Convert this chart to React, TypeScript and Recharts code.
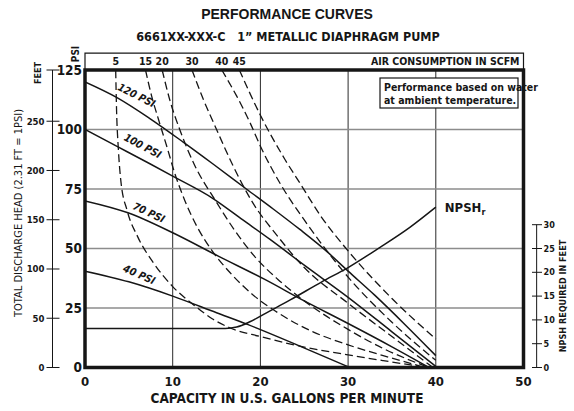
import React from 'react';
import {
  ComposedChart, Line, XAxis, YAxis, CartesianGrid, ReferenceArea, ReferenceDot, ReferenceLine,
} from 'recharts';

// axis ticks
const capacityTicks = [0, 10, 20, 30, 40, 50];
const headTicks = [0, 25, 50, 75, 100, 125];
const feetTicks = [0, 50, 100, 150, 200, 250, 302];
const npshTicks = [0, 5, 10, 15, 20, 25, 30];

// pressure curves: [gpm, head in PSI-scale feet]
const psi120 = [[0, 120], [3.6, 113.5], [7.4, 104.6], [11.2, 94.7], [14.6, 85.5], [18.4, 75], [21.5, 66.5], [24.5, 58], [27.5, 49], [30, 40.5], [33, 30.5], [36.5, 18], [40, 5]];
const psi100 = [[0, 100], [3.6, 93], [7.4, 85.6], [10, 80.4], [14.6, 71], [18, 62], [21.1, 53.8], [25, 43], [30, 29.5], [35, 15], [40, 0.5]];
const psi70 = [[0, 70], [4.9, 65], [10, 56.6], [15.2, 46.8], [20.5, 37], [25, 28], [30, 18.5], [35, 8.7], [39, 0.5]];
const psi40 = [[0, 40.5], [5, 36], [10, 30], [15, 23], [18.6, 18], [24.5, 9], [30, 0.3]];

// air consumption curves (SCFM)
const scfm5 = [[3.5, 125], [3.6, 108], [3.8, 92], [4.1, 78], [4.8, 66], [6, 55], [7.8, 44], [10, 34], [12.5, 26], [14.5, 20.5], [16.5, 16.7], [20, 13], [25, 8.6], [30, 5.3], [34, 2.9], [38, 0.6]];
const scfm15 = [[6.9, 125], [7.6, 114], [8.4, 104], [9.4, 92], [10.2, 82], [11.4, 70], [12.8, 59], [14.5, 49], [16.5, 40], [19, 31], [22, 23], [26, 15], [30, 9.5], [34, 5], [38.5, 0.3]];
const scfm20 = [[8.8, 125], [9.7, 112], [10.8, 100], [12.5, 85], [14.9, 70], [17, 58], [19.5, 46], [22, 37], [25, 28], [30, 16], [34, 8], [39, 0.3]];
const scfm30 = [[12.2, 125], [13.5, 112.6], [15, 100], [16.9, 84.6], [19, 70], [22, 55], [25, 42], [30, 27], [35, 13], [39.5, 0.5]];
const scfm40 = [[15.6, 125], [17.3, 114], [18.8, 103], [20, 93], [22.3, 77], [25, 62], [30, 38], [35, 19], [40, 3]];
const scfm45 = [[17.6, 125], [20, 106], [22.8, 87.4], [24.5, 77.5], [27, 63], [30, 49], [35, 29], [40, 12]];

// NPSH required, feet
const npshReq = [[0, 8.2], [16, 8.2], [17.3, 8.5], [18.8, 9.6], [21, 11.8], [23.4, 14.2], [27, 18], [30, 21], [33.6, 25.2], [37, 29.4], [40, 33.7]];

const psiCurves = [psi120, psi100, psi70, psi40];
const scfmCurves = [scfm5, scfm15, scfm20, scfm30, scfm40, scfm45];
const scfmLabels = ['5', '15', '20', '30', '40', '45'];
const scfmTicks = scfmCurves.map((c) => c[0][0]);

const psiTags = [
  { text: '120 PSI', x: 5.9, y: 114.5, rot: 27 },
  { text: '100 PSI', x: 6.6, y: 93.2, rot: 28 },
  { text: '70 PSI', x: 7.3, y: 65.2, rot: 25 },
  { text: '40 PSI', x: 6.2, y: 39.2, rot: 24 },
];

const toPts = (arr: number[][]) => arr.map(([x, y]) => ({ x, y }));

const NARROW = '"Liberation Sans Narrow", "Arial Narrow", "DejaVu Sans Condensed", sans-serif';
const INK = '#161616';

const FeetTick = ({ x, y, payload }: any) => {
  if (payload.value > 260) {
    return (
      <g>
        <line x1={x - 6} x2={x + 7} y1={y} y2={y} stroke={INK} />
        <text transform={`translate(${x - 15},${y + 3}) rotate(-90)`} textAnchor="middle" dominantBaseline="central"
          fontSize={9} fontWeight={700} fontFamily={NARROW} fill={INK}>FEET</text>
      </g>
    );
  }
  return (
    <g>
      <line x1={x - 6} x2={x + 7} y1={y} y2={y} stroke={INK} />
      <text x={x - 8} y={y} textAnchor="end" dominantBaseline="central" fontSize={9.5} fontWeight={700}
        fontFamily={NARROW} fill={INK}>{payload.value}</text>
    </g>
  );
};

const NpshTick = ({ x, y, payload }: any) => (
  <g>
    <line x1={x + 8.5} x2={x + 18.5} y1={y} y2={y} stroke={INK} />
    <text x={x + 20} y={y} dominantBaseline="central" fontSize={9} fontWeight={700} fontFamily={NARROW} fill={INK}>
      {payload.value}
    </text>
  </g>
);

const TagLabel = ({ viewBox, text, rot }: any) => {
  const cx = viewBox.x + (viewBox.width || 0) / 2;
  const cy = viewBox.y + (viewBox.height || 0) / 2;
  return (
    <text transform={`translate(${cx},${cy}) rotate(${rot})`} textAnchor="middle" dominantBaseline="central"
      fontSize={10.5} fontWeight={700} fontStyle="italic" fontFamily={NARROW} fill={INK}>{text}</text>
  );
};

const NpshLabel = ({ viewBox }: any) => (
  <text x={viewBox.x + 9} y={viewBox.y + 5} fontSize={13} fontWeight={700} fontFamily={NARROW} fill={INK}>
    NPSH<tspan fontSize={9} dy={3}>r</tspan>
  </text>
);

export default function App() {
  return (
    <div style={{ position: 'absolute', left: 0, top: 0, width: 574, height: 411, background: '#fff' }}>
      <ComposedChart width={574} height={411} margin={{ top: 53, right: 10.5, bottom: 0, left: 0 }}>
        <XAxis xAxisId="cap" type="number" dataKey="x" domain={[0, 50]} ticks={capacityTicks} height={43.5}
          axisLine={false} tickLine={false} tickSize={0} tickMargin={9} allowDataOverflow
          tick={{ fontSize: 13, fontWeight: 700, fill: INK, fontFamily: NARROW }} />
        <XAxis xAxisId="top" orientation="top" type="number" dataKey="x" domain={[0, 50]} ticks={scfmTicks} height={17}
          axisLine={false} tickLine={false} tickSize={0} tickMargin={5} interval={0} allowDataOverflow
          tickFormatter={(v: number) => scfmLabels[scfmTicks.indexOf(v)]}
          tick={{ fontSize: 10.5, fontWeight: 700, fill: INK, fontFamily: NARROW }} />
        <YAxis yAxisId="head" type="number" domain={[0, 125]} ticks={headTicks} width={32.5}
          axisLine={false} tickLine={false} tickSize={0} tickMargin={3} allowDataOverflow interval={0}
          tick={{ fontSize: 13.5, fontWeight: 700, fill: INK, fontFamily: NARROW }} />
        <YAxis yAxisId="outerFeet" type="number" domain={[0, 302]} ticks={feetTicks} width={52.5} allowDataOverflow
          axisLine={{ stroke: INK }} tickLine={false} tickSize={0} tickMargin={0} tick={<FeetTick />} interval={0} />
        <YAxis yAxisId="npsh" orientation="right" type="number" domain={[0, 62.5]} ticks={npshTicks} width={40}
          allowDataOverflow interval={0}
          axisLine={false} tickLine={false} tickSize={0} tickMargin={0} tick={<NpshTick />} />

        <CartesianGrid xAxisId="cap" yAxisId="head" horizontal={false} stroke="#2a2a2a" strokeWidth={1} />
        <CartesianGrid xAxisId="cap" yAxisId="head" vertical={false} stroke="#8c8c8c" strokeWidth={1.6} />

        <ReferenceArea xAxisId="cap" yAxisId="head" x1={0} x2={50} y1={125} y2={132.1} ifOverflow="visible"
          fill="none" stroke={INK} strokeWidth={1.2}
          label={{ value: 'AIR CONSUMPTION IN SCFM', position: 'insideRight', offset: 4, fontSize: 10.5, fontWeight: 700, fill: INK, fontFamily: NARROW }} />
        <ReferenceLine xAxisId="cap" yAxisId="npsh" segment={[{ x: 51.5, y: 0 }, { x: 51.5, y: 30 }]}
          ifOverflow="visible" stroke={INK} strokeWidth={1} />

        {scfmCurves.map((c, i) => (
          <Line key={`scfm${i}`} xAxisId="top" yAxisId="head" data={toPts(c)} dataKey="y" type="monotone"
            stroke={INK} strokeWidth={1.3} strokeDasharray="8 4" dot={false} activeDot={false} isAnimationActive={false} />
        ))}
        {psiCurves.map((c, i) => (
          <Line key={`psi${i}`} xAxisId="cap" yAxisId="head" data={toPts(c)} dataKey="y" type="monotone"
            stroke={INK} strokeWidth={1.5} dot={false} activeDot={false} isAnimationActive={false} />
        ))}
        <Line xAxisId="cap" yAxisId="npsh" data={toPts(npshReq)} dataKey="y" type="monotone"
          stroke={INK} strokeWidth={1.5} dot={false} activeDot={false} isAnimationActive={false} />

        <ReferenceArea xAxisId="cap" yAxisId="head" x1={0} x2={50} y1={0} y2={125} ifOverflow="visible"
          fill="none" stroke={INK} strokeWidth={3.5} />

        {psiTags.map((t) => (
          <ReferenceDot key={t.text} xAxisId="cap" yAxisId="head" x={t.x} y={t.y} r={0} stroke="none" fill="none"
            label={<TagLabel text={t.text} rot={t.rot} />} />
        ))}
        <ReferenceDot xAxisId="cap" yAxisId="npsh" x={npshReq[npshReq.length - 1][0]} y={npshReq[npshReq.length - 1][1]}
          r={0} stroke="none" fill="none" label={<NpshLabel />} />

        <text x={287} y={19} textAnchor="middle" fontSize={14} fontWeight={700} fontFamily="Liberation Sans, Arial, sans-serif" fill={INK}>
          PERFORMANCE CURVES
        </text>
        <text x={288} y={41} textAnchor="middle" fontSize={12.5} fontWeight={700} fontFamily={NARROW} fill={INK}>
          6661XX-XXX-C{'\u00a0\u00a0\u00a0'}1” METALLIC DIAPHRAGM PUMP
        </text>
        <text transform="translate(75,54) rotate(-90)" textAnchor="middle" dominantBaseline="central"
          fontSize={10} fontWeight={700} fontFamily={NARROW} fill={INK}>PSI</text>
        <text transform="translate(18,213) rotate(-90)" textAnchor="middle" dominantBaseline="central"
          fontSize={11} fontFamily={NARROW} fill={INK}>TOTAL DISCHARGE HEAD (2.31 FT = 1PSI)</text>
        <text transform="translate(563,296) rotate(-90)" textAnchor="middle" dominantBaseline="central"
          fontSize={9} fontWeight={700} fontFamily={NARROW} fill={INK}>NPSH REQUIRED IN FEET</text>
        <text x={287} y={403} textAnchor="middle" fontSize={13.5} fontWeight={700} fontFamily={NARROW} fill={INK}>
          CAPACITY IN U.S. GALLONS PER MINUTE
        </text>

        <rect x={380} y={78} width={138} height={30} fill="#fff" stroke={INK} strokeWidth={1.2} />
        <text x={384} y={91} fontSize={10.5} fontWeight={700} fontFamily={NARROW} fill={INK}>Performance based on water</text>
        <text x={384} y={104} fontSize={10.5} fontWeight={700} fontFamily={NARROW} fill={INK}>at ambient temperature.</text>
      </ComposedChart>
    </div>
  );
}
